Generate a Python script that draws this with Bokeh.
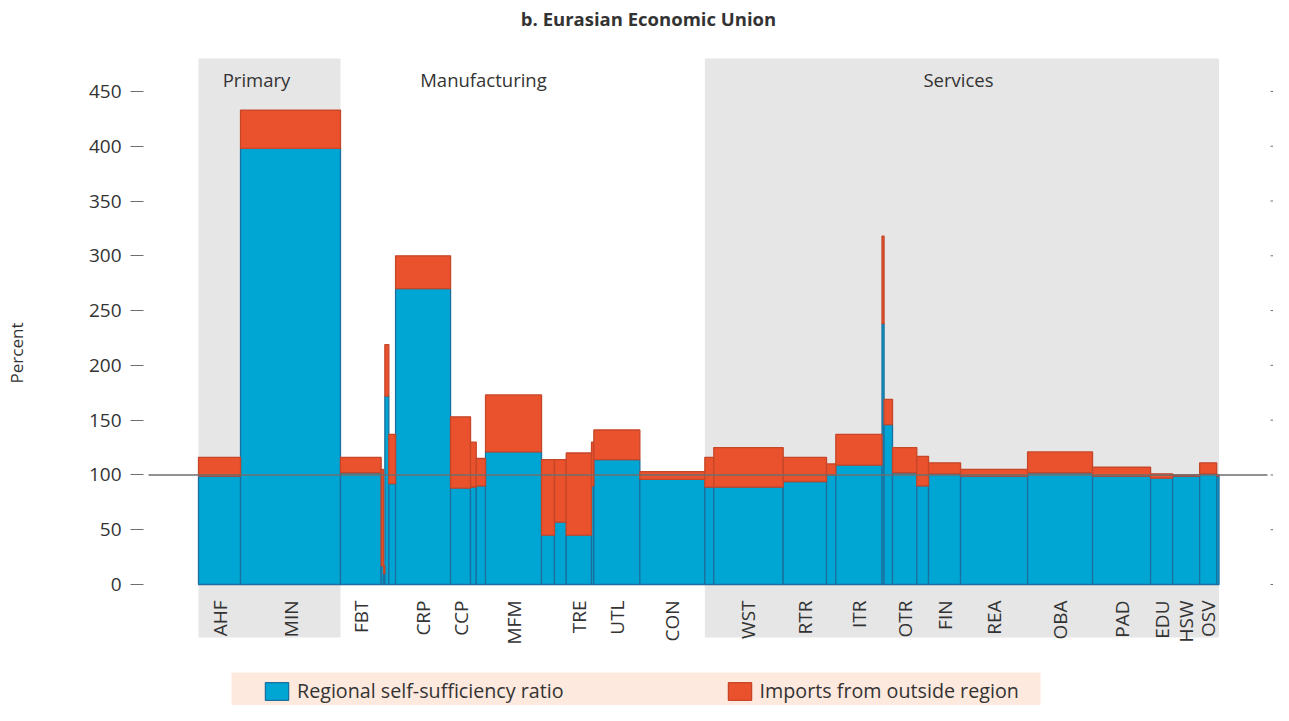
import numpy as np
from bokeh.plotting import figure
from bokeh.models import ColumnDataSource, Range1d, FixedTicker, Legend, LegendItem
from bokeh.core.properties import value
from bokeh.embed import file_html
from bokeh.resources import INLINE

# ---------------- data ----------------
sectors = ["AHF", "MIN", "FBT", "", "", "", "", "CRP", "CCP", "", "", "MFM", "", "",
           "TRE", "", "UTL", "CON", "", "WST", "RTR", "", "ITR", "", "", "OTR", "",
           "FIN", "REA", "OBA", "PAD", "EDU", "HSW", "OSV", ""]
groups = ["Primary"] * 2 + ["Manufacturing"] * 16 + ["Services"] * 17
# share of regional output (bar widths)
output_share = [4.12, 9.80, 3.99, 0.23, 0.13, 0.39, 0.66, 5.39, 1.96, 0.56, 0.91, 5.49,
                1.27, 1.15, 2.48, 0.23, 4.51, 6.37, 0.88, 6.80, 4.25, 0.91, 4.53, 0.20,
                0.83, 2.38, 1.15, 3.14, 6.57, 6.37, 5.69, 2.16, 2.65, 1.67, 0.23]
self_sufficiency = [99, 398, 102, 17, 10, 172, 92, 270, 88, 89, 90, 121, 45, 57, 45, 90,
                    114, 96, 89, 89, 94, 100, 109, 238, 146, 102, 90, 101, 99, 102, 99,
                    97, 99, 101, 99]
imports_outside = [17, 35, 14, 88, 7, 47, 45, 30, 65, 41, 25, 52, 69, 57, 75, 40, 27, 7,
                   27, 36, 22, 10, 28, 80, 23, 23, 27, 10, 6, 19, 8, 4, 1, 10, 1]
y_ticks = [0, 50, 100, 150, 200, 250, 300, 350, 400, 450]
title_text = "b. Eurasian Economic Union"
legend_labels = ["Regional self-sufficiency ratio", "Imports from outside region"]

FONT = "Open Sans"
BLUE, BLUE_LINE = "#00a6d3", "#1c6e9e"
ORANGE, ORANGE_LINE = "#e9522c", "#c6462a"
GRAY = "#e6e6e6"
TXT = "#333333"
TICK = "#6e6e6e"

w = np.array(output_share, dtype=float)
right = np.cumsum(w)
left = right - w
ss = np.array(self_sufficiency, dtype=float)
tot = ss + np.array(imports_outside, dtype=float)
src = ColumnDataSource(dict(left=left, right=right, ss=ss, tot=tot,
                            mid=(left + right) / 2, name=sectors))

X0, X1 = -5.392, 105.39
Y0, Y1 = -110.44, 533.0
p = figure(width=1273, height=705,
           x_range=Range1d(X0, X1), y_range=Range1d(Y0, Y1),
           output_backend="svg", toolbar_location=None,
           x_axis_location=None, y_axis_location="left",
           min_border_left=143, min_border_right=0, min_border_top=0,
           min_border_bottom=0)
p.grid.visible = False
p.outline_line_color = None

# shaded sector groups
for g in ["Primary", "Services"]:
    idx = [i for i, gg in enumerate(groups) if gg == g]
    p.quad(left=[left[idx[0]]], right=[right[idx[-1]]], bottom=[-48.4], top=[480.1],
           fill_color=GRAY, line_color=None)

section_pos = {"Primary": 5.69, "Manufacturing": 27.94, "Services": 74.5}
for g, xx in section_pos.items():
    p.text(x=[xx], y=[461], text=[g], text_align="center", text_baseline="middle",
           text_font=value(FONT), text_font_size="18.5px", text_color=TXT)

# legend background band
p.quad(left=[3.24], right=[82.55], bottom=[Y0], top=[-80.3],
       fill_color="#fde9de", line_color=None)

rb = p.quad(left="left", right="right", bottom=0, top="ss", source=src,
            fill_color=BLUE, line_color=BLUE_LINE, line_width=1.3)
ro = p.quad(left="left", right="right", bottom="ss", top="tot", source=src,
            fill_color=ORANGE, line_color=ORANGE_LINE, line_width=1.3)

# 100% reference line
p.segment(x0=[-4.9], y0=[100], x1=[104.8], y1=[100], line_color=TICK,
          line_width=1.5)

# right-hand tick marks
p.segment(x0=[105.1] * len(y_ticks), y0=y_ticks, x1=[X1] * len(y_ticks), y1=y_ticks,
          line_color=TICK, line_width=1)

# category labels
p.text(x="mid", y=-14.6, text="name", source=src, angle=np.pi / 2,
       text_align="right", text_baseline="middle", text_font=value(FONT),
       text_font_size="19px", text_color=TXT)

# title
p.text(x=[44.12], y=[516.6], text=[title_text], text_align="center",
       text_baseline="middle", text_font=value(FONT), text_font_size="18.5px",
       text_font_style="bold", text_color=TXT)

ax = p.yaxis[0]
ax.ticker = FixedTicker(ticks=y_ticks)
ax.axis_line_color = None
ax.major_tick_out = 13
ax.major_tick_in = 0
ax.minor_tick_out = 0
ax.minor_tick_in = 0
ax.major_tick_line_color = TICK
ax.major_label_standoff = 9
ax.major_label_text_font = FONT
ax.major_label_text_font_size = "19px"
ax.major_label_text_color = TXT
ax.axis_label = "Percent"
ax.axis_label_text_font = FONT
ax.axis_label_text_font_size = "17px"
ax.axis_label_text_font_style = "normal"
ax.axis_label_text_color = TXT
ax.axis_label_standoff = 58

legend = Legend(items=[LegendItem(label=legend_labels[0], renderers=[rb]),
                       LegendItem(label=legend_labels[1], renderers=[ro])],
                orientation="horizontal", location=(119, 1), padding=0, margin=0,
                spacing=161, glyph_width=29, glyph_height=22, label_standoff=6,
                label_text_font=FONT, label_text_font_size="19.7px",
                label_text_color=TXT, background_fill_alpha=0,
                border_line_color=None)
p.add_layout(legend)

open("out.html", "w").write(file_html(p, INLINE))
